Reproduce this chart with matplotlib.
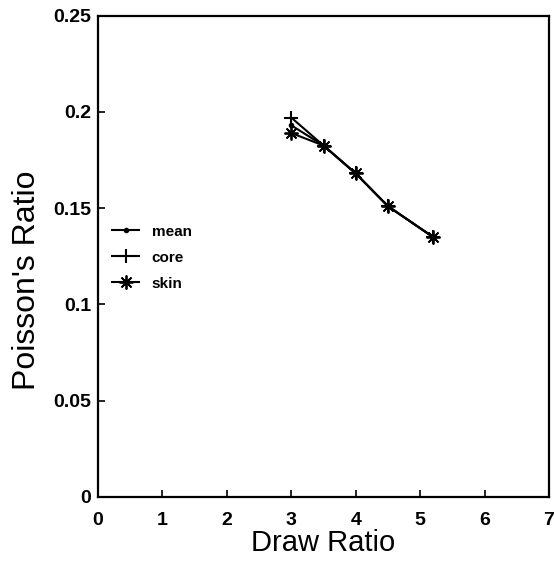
import matplotlib
matplotlib.use('Agg')
import matplotlib.pyplot as plt

plt.rcParams['font.family'] = ['Liberation Sans', 'DejaVu Sans']

# data
draw_ratio = [3.0, 3.5, 4.0, 4.5, 5.2]
mean_pr = [0.193, 0.1825, 0.168, 0.151, 0.135]
core_pr = [0.197, 0.1825, 0.168, 0.151, 0.135]
skin_pr = [0.189, 0.1825, 0.168, 0.151, 0.135]

fig = plt.figure(figsize=(5.54, 5.67), dpi=100)
ax = fig.add_axes([0.177, 0.1235, 0.814, 0.849])

ax.plot(draw_ratio, mean_pr, color='black', lw=1.5, marker='o', ms=3, label='mean')
ax.plot(draw_ratio, core_pr, color='black', lw=1.5, marker='+', ms=10, mew=1.5, label='core')
ax.plot(draw_ratio, skin_pr, color='black', lw=1.5, marker=(8, 2, 0), ms=10, mew=1.3, label='skin')

ax.set_xlim(0, 7)
ax.set_ylim(0, 0.25)
ax.set_xticks(range(0, 8))
ax.set_yticks([0, 0.05, 0.1, 0.15, 0.2, 0.25])
ax.set_yticklabels(['0', '0.05', '0.1', '0.15', '0.2', '0.25'])
ax.tick_params(direction='in', length=5, width=1.2, labelsize=14)
ax.tick_params(axis='x', pad=11)
ax.tick_params(axis='y', pad=5)
for lab in ax.get_xticklabels() + ax.get_yticklabels():
    lab.set_fontweight('bold')
for s in ax.spines.values():
    s.set_linewidth(1.6)

ax.set_xlabel('Draw Ratio', fontsize=21, labelpad=0)
ax.set_ylabel("Poisson's Ratio", fontsize=23)
# label sits a bit below the axes centre in the original
ax.yaxis.set_label_coords(-0.125, 0.451)

leg = ax.legend(loc='upper left', bbox_to_anchor=(0.0, 0.594), frameon=False,
                prop={'weight': 'bold', 'size': 11}, handlelength=1.8,
                handletextpad=0.8, labelspacing=0.78)

plt.savefig('out.png', dpi=100)
